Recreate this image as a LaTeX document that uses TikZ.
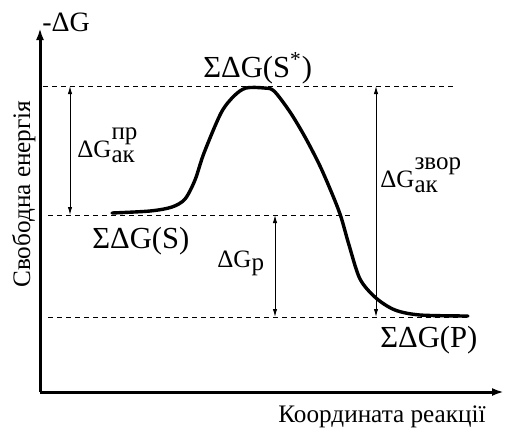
\documentclass[tikz,border=0pt]{standalone}
\usepackage{fontspec}
\setmainfont{Liberation Serif}
\usetikzlibrary{arrows.meta, positioning}
\newcommand{\idxfont}{\fontsize{12.5}{14}\selectfont}
\newcommand{\dGidx}[2]{ΔG\rlap{\raisebox{-2.5pt}{\idxfont #1}}\raisebox{9pt}{\idxfont #2}}

\begin{document}
\begin{tikzpicture}[x=0.5pt, y=-0.5pt, >={Latex[length=4pt, width=2.2pt]}]
    \tikzstyle{axis} = [line width=1.5pt, -{Latex[length=6pt, width=4pt]}]
    \tikzstyle{level} = [line width=0.5pt, dash pattern=on 2.5pt off 2pt]
    \tikzstyle{gap} = [line width=0.5pt, <->]
    \tikzstyle{curve} = [line width=1.7pt, line join=round, line cap=round]
    \tikzstyle{lbl} = [inner sep=0pt, anchor=base west, font=\fontsize{15.3}{17}\selectfont]
    \tikzstyle{small} = [inner sep=0pt, anchor=base west, font=\fontsize{12.6}{14}\selectfont]
    \tikzstyle{dgl} = [inner sep=0pt, anchor=base west, font=\fontsize{12.5}{14}\selectfont]

    \useasboundingbox (0,0) rectangle (507,428);

    % axes
    \coordinate (origin) at (40,392);
    \coordinate (ytop)   at (40,28);
    \coordinate (xend)   at (504,392);
    \draw [axis] (origin) -- (ytop);
    \draw [axis] (origin) -- (xend);

    % energy levels
    \coordinate (ts0) at (43,86);   \coordinate (ts1) at (455,86);
    \coordinate (s0)  at (48,215);  \coordinate (s1)  at (350,215);
    \coordinate (p0)  at (48,317);  \coordinate (p1)  at (470,317);
    \draw [level] (ts0) -- (ts1);
    \draw [level] (s0) -- (s1);
    \draw [level] (p0) -- (p1);

    % reaction profile
    \draw [curve] plot [smooth, tension=0.5] coordinates {
        (112,213) (150,211) (172,207) (185,199) (195,180) (204,153) (221,113)
        (234,96) (246,88) (264,88) (274,91) (290,112) (305,137) (320,166)
        (333,196) (341,217) (349,245) (360,279) (376,298) (395,310) (420,315) (468,316)};

    % differences
    \coordinate (a0) at (70,86);   \coordinate (a1) at (70,215);
    \coordinate (r0) at (275,215); \coordinate (r1) at (275,317);
    \coordinate (b0) at (376,86);  \coordinate (b1) at (376,317);
    \draw [gap] (a0) -- (a1);
    \draw [gap] (r0) -- (r1);
    \draw [gap] (b0) -- (b1);

    % labels
    \node (ylab)  [small, font=\fontsize{14}{16}\selectfont] at (42,32) {-ΔG};
    \node (ename) [small, rotate=90] at (30,288) {Свободна енергія};
    \node (xlab)  [small] at (278,422) {Координата реакції};
    \node (gts)   [lbl] at (203,77)    {ΣΔG(S\textsuperscript{*})};
    \node (gs)    [lbl] at (92,248)    {ΣΔG(S)};
    \node (gp)    [lbl] at (380,347)   {ΣΔG(P)};
    \node (gfwd)  [dgl] at (77,157)    {\dGidx{ак}{пр}};
    \node (grev)  [dgl] at (380,187)   {\dGidx{ак}{звор}};
    \node (greac) [dgl] at (217,267)   {ΔG\raisebox{-1.5pt}{\idxfont р}};
\end{tikzpicture}
\end{document}
